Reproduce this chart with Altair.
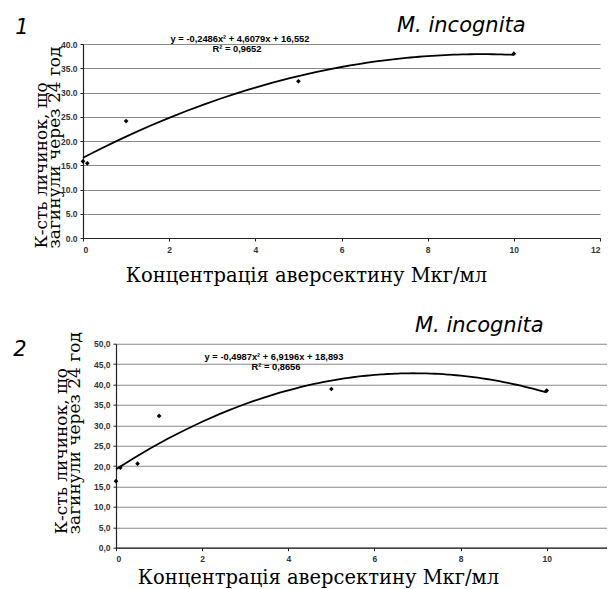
import altair as alt
import pandas as pd

# ---- data ----
conc1 = [0, 0.1, 1, 5, 10]
dead1 = [15.8, 15.4, 24.1, 32.3, 38.0]
conc2 = [0, 0.1, 0.5, 1, 5, 10]
dead2 = [16.3, 19.6, 20.6, 32.3, 38.9, 38.5]

x1_ticks = [0, 2, 4, 6, 8, 10, 12]
y1_ticks = [0, 5, 10, 15, 20, 25, 30, 35, 40]
x2_ticks = [0, 2, 4, 6, 8, 10]
y2_ticks = [0, 5, 10, 15, 20, 25, 30, 35, 40, 45, 50]

eq1 = "y = -0,2486x² + 4,6079x + 16,552"
r1 = "R² = 0,9652"
eq2 = "y = -0,4987x² + 6,9196x + 18,893"
r2 = "R² = 0,8656"
species = "M. incognita"
x_title = "Концентрація аверсектину Мкг/мл"
y_title = ["К-сть личинок, що", "загинули через 24 год"]

SERIF = "DejaVu Serif"
SANS = "Liberation Sans"
ITAL = "DejaVu Sans"


def txt(s, x, y, size, font, style="normal", align="center", baseline="middle", weight="normal"):
    return alt.Chart(pd.DataFrame({"t": [s]})).mark_text(
        align=align, baseline=baseline, fontSize=size, font=font,
        fontStyle=style, fontWeight=weight, color="black"
    ).encode(x=alt.value(x), y=alt.value(y), text="t:N")


def panel(xs, ys, xdom, xticks, ydom, yticks, comma, w, h, ytx, yty, xtx, xty,
          eq, r2txt, eqpos, rpos, sppos, numlabel, numpos):
    df = pd.DataFrame({"x": xs, "y": ys})
    if comma:
        ylab = "replace(format(datum.value, '.1f'), '.', ',')"
    else:
        ylab = "format(datum.value, '.1f')"
    xax = alt.Axis(values=xticks, grid=False, tickSize=3, tickColor="#222",
                   domainColor="#222", domainWidth=1.2, labelOverlap=False,
                   labelFont=SANS, labelFontSize=8.5, labelFontWeight="bold",
                   labelColor="#333", labelPadding=4,
                   title=x_title, titleFont=SERIF, titleFontSize=19.5,
                   titleFontWeight="normal", titleColor="black",
                   titleX=xtx, titleY=xty, titleAlign="center", titleBaseline="top")
    yax = alt.Axis(values=yticks, grid=True, gridColor="#8a8a8a", gridWidth=1.1,
                   tickSize=3, tickColor="#222", domainColor="#222", domainWidth=1.2,
                   labelOverlap=False,
                   labelFont=SANS, labelFontSize=8.5, labelFontWeight="bold",
                   labelColor="#333", labelPadding=3, labelExpr=ylab,
                   title=y_title, titleFont=SERIF, titleFontSize=17,
                   titleFontWeight="normal", titleColor="black",
                   titleAngle=270, titleAlign="left", titleBaseline="top",
                   titleLineHeight=13, titleX=ytx, titleY=yty)
    xenc = alt.X("x:Q", scale=alt.Scale(domain=xdom, nice=False), axis=xax)
    yenc = alt.Y("y:Q", scale=alt.Scale(domain=ydom, nice=False), axis=yax)
    base = alt.Chart(df)
    trend = base.transform_regression("x", "y", method="poly", order=2, extent=[0, 10]).mark_line(
        color="black", strokeWidth=1.8).encode(x=xenc, y=yenc)
    pts = base.mark_point(shape="diamond", filled=True, size=22, color="black", opacity=1).encode(
        x=xenc, y=yenc)
    layers = [trend, pts,
              txt(eq, eqpos[0], eqpos[1], 9.3, SANS, weight="bold"),
              txt(r2txt, rpos[0], rpos[1], 9.3, SANS, weight="bold"),
              txt(species, sppos[0], sppos[1], 21, ITAL, style="italic", align="left",
                  baseline="alphabetic"),
              txt(numlabel, numpos[0], numpos[1], 21, ITAL, style="italic", align="left",
                  baseline="alphabetic")]
    return alt.layer(*layers).properties(width=w, height=h)


c1 = panel(conc1, dead1, [0, 12], x1_ticks, [0, 40], y1_ticks, False, 517, 194,
           -49.7, 204, 223, 28,
           eq1, r1, (157, -5), (154, 5), (314, -11.7), "1", (-67.7, -9.7))

c2 = panel(conc2, dead2, [0, 11.4], x2_ticks, [0, 50], y2_ticks, True, 491, 204,
           -62.7, 190, 202, 21,
           eq2, r2, (158, 13), (160, 23.3), (299, -11.7), "2", (-102.7, 12.3))

spacer = alt.Chart(pd.DataFrame({"t": [""]})).mark_text().encode(
    x=alt.value(0), y=alt.value(0), text="t:N").properties(width=33, height=204)

chart = alt.vconcat(
    c1,
    alt.hconcat(spacer, c2, spacing=0, bounds="flush"),
    spacing=105.7, bounds="flush"
).properties(
    padding={"left": 5, "top": 7, "right": 0, "bottom": 0},
    background="white"
).configure_view(strokeWidth=0)

chart.save("out.html", embed_options={"renderer": "svg", "actions": False})
